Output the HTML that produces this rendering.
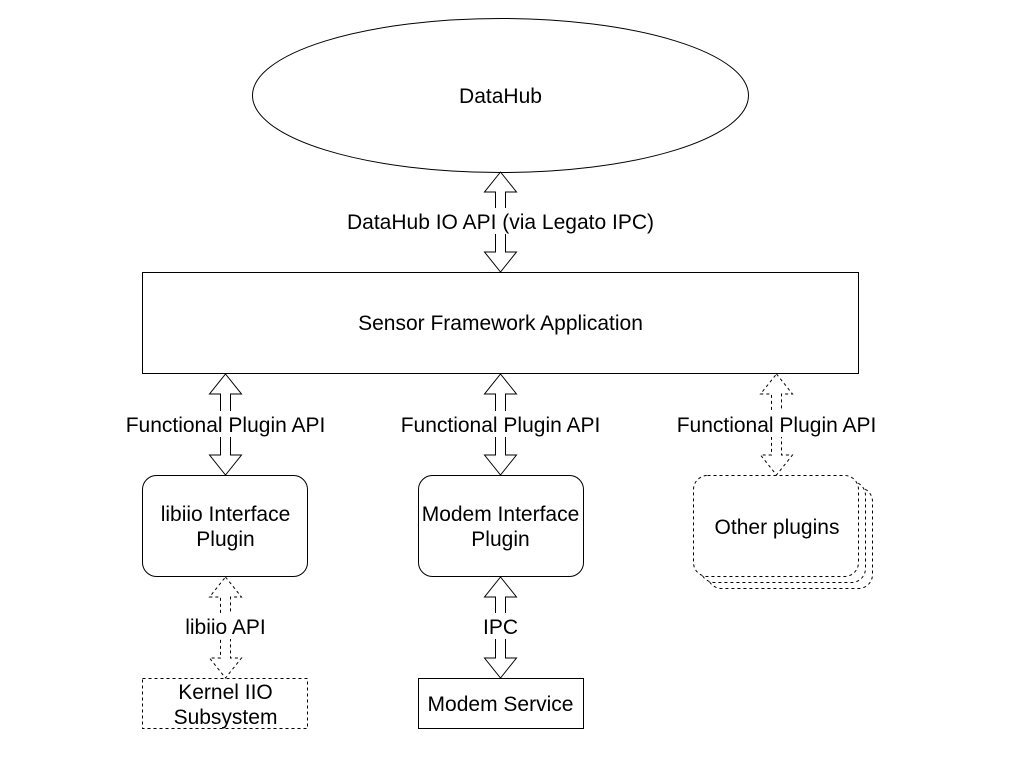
<!DOCTYPE html>
<html><head><meta charset="utf-8"><style>
html,body{margin:0;padding:0;background:#fff;}
svg{display:block;}
text{font-family:"Liberation Sans",sans-serif;font-size:21px;fill:#000;}
</style></head><body>
<svg width="1035" height="773" viewBox="0 0 1035 773" xmlns="http://www.w3.org/2000/svg">
<rect width="1035" height="773" fill="#fff"/>
<g fill="#fff" stroke="#000" stroke-width="1">
<ellipse cx="500.5" cy="95.5" rx="248" ry="77"/>
<rect x="142.5" y="272.5" width="716" height="101"/>
<rect x="142.5" y="475.5" width="165" height="101" rx="14"/>
<rect x="418.5" y="475.5" width="165" height="101" rx="14"/>
<rect x="418.5" y="678.5" width="165" height="50"/>
<rect x="142.5" y="678.5" width="165" height="50" stroke-dasharray="3,3"/>
<g stroke-dasharray="3,3">
<rect x="707.5" y="487.5" width="165" height="101" rx="14"/>
<rect x="700.5" y="481.5" width="165" height="101" rx="14"/>
<rect x="693.5" y="475.5" width="165" height="101" rx="14"/>
</g>
<path d="M500.5,172 L516.5,192 L505.5,192 L505.5,252 L516.5,252 L500.5,272 L484.5,252 L495.5,252 L495.5,192 L484.5,192 Z"/>
<path d="M225.5,374 L241.5,394 L230.5,394 L230.5,455 L241.5,455 L225.5,475 L209.5,455 L220.5,455 L220.5,394 L209.5,394 Z"/>
<path d="M500.5,374 L516.5,394 L505.5,394 L505.5,455 L516.5,455 L500.5,475 L484.5,455 L495.5,455 L495.5,394 L484.5,394 Z"/>
<path d="M500.5,577 L516.5,597 L505.5,597 L505.5,658 L516.5,658 L500.5,678 L484.5,658 L495.5,658 L495.5,597 L484.5,597 Z"/>
<g stroke-dasharray="3,3">
<path d="M776.5,374 L792.5,394 L781.5,394 L781.5,455 L792.5,455 L776.5,475 L760.5,455 L771.5,455 L771.5,394 L760.5,394 Z"/>
<path d="M225.5,577 L241.5,597 L230.5,597 L230.5,658 L241.5,658 L225.5,678 L209.5,658 L220.5,658 L220.5,597 L209.5,597 Z"/>
</g>
</g>
<g fill="#fff">
<rect x="344" y="208" width="313" height="26"/>
<rect x="122" y="411" width="207" height="26"/>
<rect x="397" y="411" width="207" height="26"/>
<rect x="673" y="411" width="207" height="26"/>
<rect x="180" y="613" width="90" height="26"/>
<rect x="480" y="613" width="41" height="26"/>
</g>
<g text-anchor="middle">
<text x="500.5" y="103">DataHub</text>
<text x="500.5" y="229">DataHub IO API (via Legato IPC)</text>
<text x="500.5" y="330">Sensor Framework Application</text>
<text x="225.5" y="432">Functional Plugin API</text>
<text x="500.5" y="432">Functional Plugin API</text>
<text x="776.5" y="432">Functional Plugin API</text>
<text x="225.5" y="521">libiio Interface</text>
<text x="225.5" y="546">Plugin</text>
<text x="500.5" y="521">Modem Interface</text>
<text x="500.5" y="546">Plugin</text>
<text x="777" y="534">Other plugins</text>
<text x="225.5" y="634">libiio API</text>
<text x="500.5" y="634">IPC</text>
<text x="225.5" y="699">Kernel IIO</text>
<text x="225.5" y="724">Subsystem</text>
<text x="500.5" y="711">Modem Service</text>
</g>
</svg>
</body></html>
